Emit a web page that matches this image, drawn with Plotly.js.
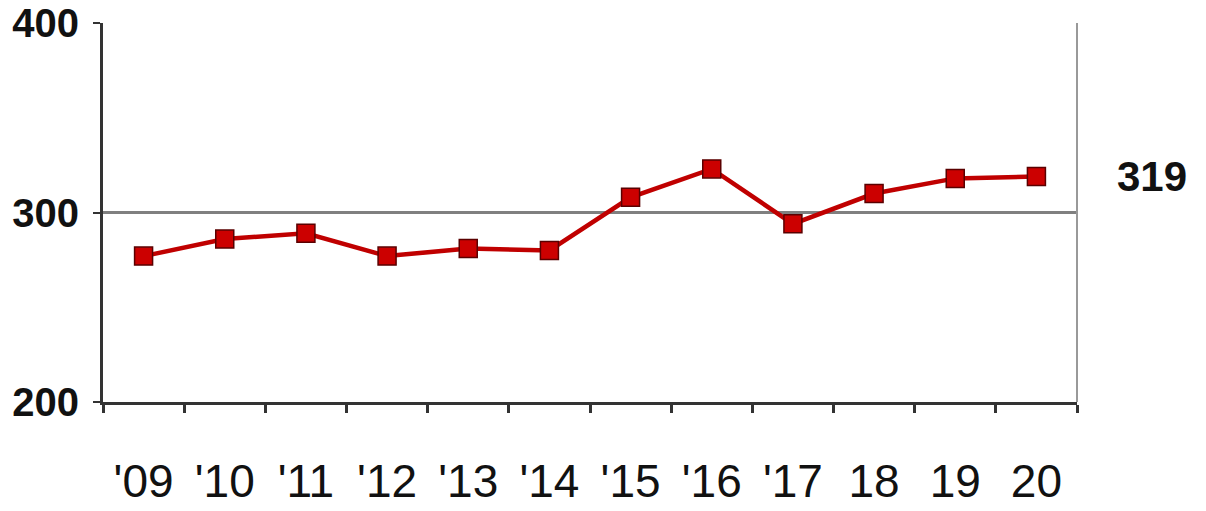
<!DOCTYPE html>
<html>
<head>
<meta charset="utf-8">
<script src="https://cdn.plot.ly/plotly-3.0.1.min.js"></script>
<style>html,body{margin:0;padding:0;background:#fff;}#chart{width:1206px;height:511px;}</style>
</head>
<body>
<div id="chart"></div>
<script>
const years = ["'09", "'10", "'11", "'12", "'13", "'14", "'15", "'16", "'17", "18", "19", "20"];
const values = [277, 286, 289, 277, 281, 280, 308, 323, 294, 310, 318, 319];
const lastLabel = "319";
const yTicks = [200, 300, 400];

const font = "Liberation Sans, Arial, sans-serif";

const trace = {
  x: years,
  y: values,
  type: 'scatter',
  mode: 'lines+markers',
  line: {color: '#c00000', width: 4.5},
  marker: {symbol: 'square', size: 18, color: '#cc0000', line: {color: '#5a0000', width: 1.5}},
  hoverinfo: 'x+y'
};

const layout = {
  width: 1206, height: 511,
  margin: {l: 103, r: 129, t: 23, b: 109},
  paper_bgcolor: '#fff', plot_bgcolor: '#fff',
  showlegend: false,
  xaxis: {
    type: 'category',
    range: [-0.5, years.length - 0.5],
    tickson: 'boundaries',
    ticks: 'outside', ticklen: 8, tickwidth: 3, tickcolor: '#333',
    showgrid: false, zeroline: false,
    showline: true, linecolor: '#333', linewidth: 3,
    tickfont: {family: font, size: 46, color: '#111'},
    ticklabelstandoff: 37
  },
  yaxis: {
    range: [200, 400],
    tickvals: yTicks,
    ticks: 'outside', ticklen: 7, tickwidth: 2, tickcolor: '#333',
    showgrid: true, gridcolor: '#808080', gridwidth: 2.5,
    zeroline: false,
    showline: true, linecolor: '#333', linewidth: 3,
    tickfont: {family: font, size: 40, color: '#111', weight: 'bold'},
    ticklabelstandoff: 6
  },
  shapes: [
    {type: 'line', xref: 'paper', yref: 'paper', x0: 1, x1: 1, y0: 0, y1: 1, line: {color: '#999', width: 2}}
  ],
  annotations: [
    {xref: 'paper', yref: 'y', x: 1, y: values[values.length - 1], xanchor: 'left', yanchor: 'middle', xshift: 38,
     text: '<b>' + lastLabel + '</b>', showarrow: false, font: {family: font, size: 42, color: '#111'}}
  ]
};

Plotly.newPlot('chart', [trace], layout, {displayModeBar: false, staticPlot: true});
</script>
</body>
</html>
